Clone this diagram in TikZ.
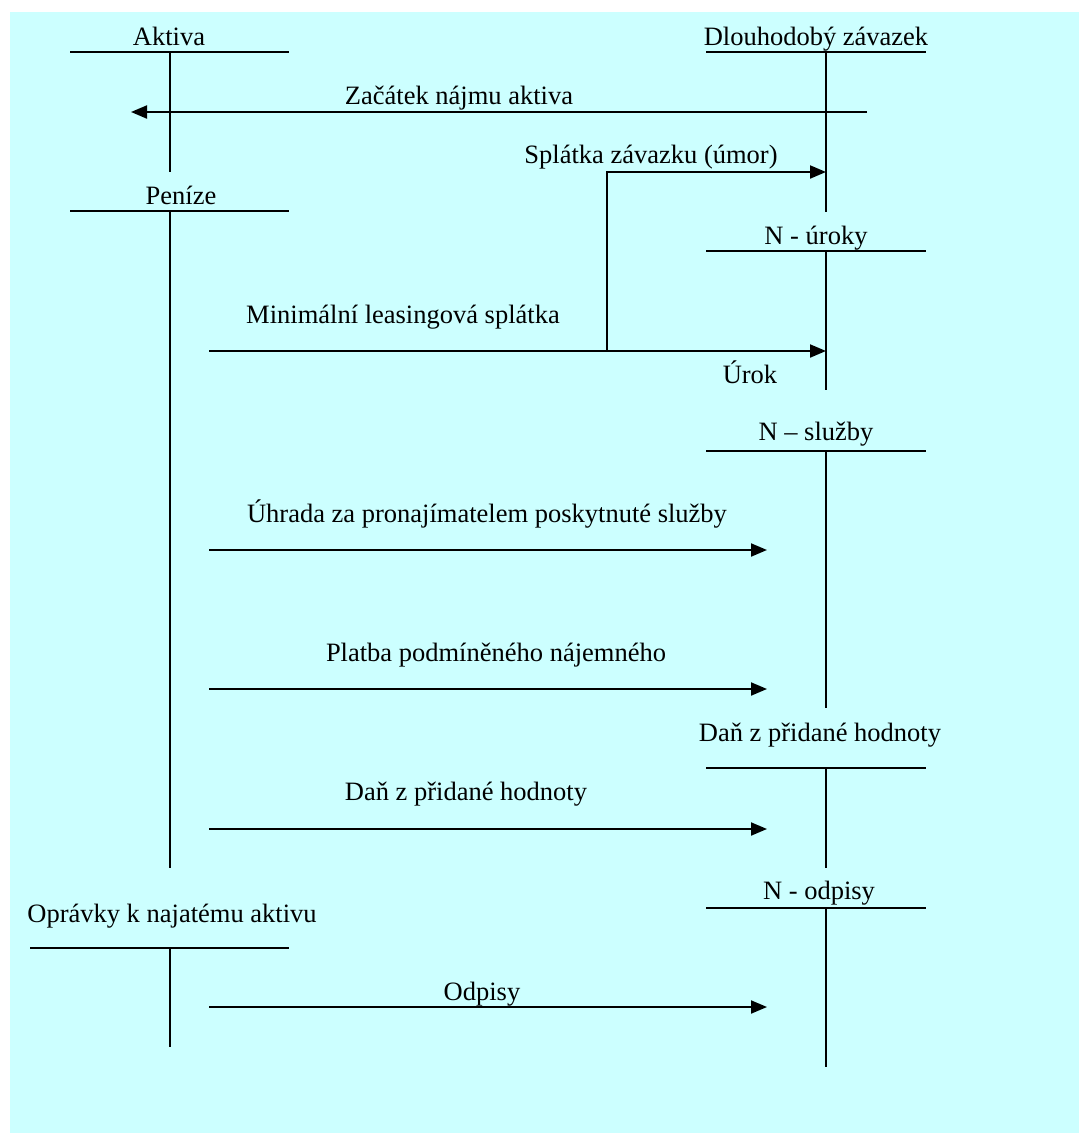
\documentclass[tikz,border=0pt]{standalone}
\usepackage{fontspec}
\setmainfont{Liberation Serif}
\usetikzlibrary{arrows.meta}
\definecolor{bgcyan}{RGB}{204,255,255}
\begin{document}
\begin{tikzpicture}[x=1pt,y=-1pt,
  lbl/.style={anchor=base,inner sep=0pt,font=\fontsize{26.5}{30}\selectfont},
  tline/.style={line width=2pt},
  flow/.style={line width=2pt,-{Triangle[length=16pt,width=13pt]}}]
\useasboundingbox (0,0) rectangle (1079,1133);
\fill[white] (0,0) rectangle (1079,1133);
\fill[bgcyan] (10,12) rectangle (1079,1133);

% ---- T-account: Aktiva
\node[lbl] (tAkt) at (169,45) {Aktiva};
\coordinate (akL) at (70,52); \coordinate (akR) at (289,52);
\coordinate (akT) at (170,52); \coordinate (akB) at (170,172);
\draw[tline] (akL) -- (akR); \draw[tline] (akT) -- (akB);

% ---- T-account: Peníze
\node[lbl] (tPen) at (181,204) {Peníze};
\coordinate (peL) at (70,211); \coordinate (peR) at (289,211);
\coordinate (peT) at (170,211); \coordinate (peB) at (170,868);
\draw[tline] (peL) -- (peR); \draw[tline] (peT) -- (peB);

% ---- T-account: Oprávky
\node[lbl] (tOpr) at (172,922) {Oprávky k najatému aktivu};
\coordinate (opL) at (30,948); \coordinate (opR) at (289,948);
\coordinate (opT) at (170,948); \coordinate (opB) at (170,1047);
\draw[tline] (opL) -- (opR); \draw[tline] (opT) -- (opB);

% ---- T-account: Dlouhodobý závazek
\node[lbl] (tDlo) at (816,45) {Dlouhodobý závazek};
\coordinate (dzL) at (706,52); \coordinate (dzR) at (926,52);
\coordinate (dzT) at (826,52); \coordinate (dzB) at (826,212);
\draw[tline] (dzL) -- (dzR); \draw[tline] (dzT) -- (dzB);

% ---- T-account: N - úroky
\node[lbl] (tUro) at (816,244) {N - úroky};
\coordinate (nuL) at (706,251); \coordinate (nuR) at (926,251);
\coordinate (nuT) at (826,251); \coordinate (nuB) at (826,390);
\draw[tline] (nuL) -- (nuR); \draw[tline] (nuT) -- (nuB);

% ---- T-account: N – služby
\node[lbl] (tSlu) at (816,440) {N – služby};
\coordinate (nsL) at (706,451); \coordinate (nsR) at (926,451);
\coordinate (nsT) at (826,451); \coordinate (nsB) at (826,708);
\draw[tline] (nsL) -- (nsR); \draw[tline] (nsT) -- (nsB);

% ---- T-account: Daň z přidané hodnoty
\node[lbl] (tDph) at (820,741) {Daň z přidané hodnoty};
\coordinate (dpL) at (706,768); \coordinate (dpR) at (926,768);
\coordinate (dpT) at (826,768); \coordinate (dpB) at (826,868);
\draw[tline] (dpL) -- (dpR); \draw[tline] (dpT) -- (dpB);

% ---- T-account: N - odpisy
\node[lbl] (tOdp) at (819,899) {N - odpisy};
\coordinate (noL) at (706,908); \coordinate (noR) at (926,908);
\coordinate (noT) at (826,908); \coordinate (noB) at (826,1067);
\draw[tline] (noL) -- (noR); \draw[tline] (noT) -- (noB);

% ---- flows
\coordinate (zaS) at (867,112); \coordinate (zaE) at (131,112);
\draw[flow] (zaS) -- (zaE);
\node[lbl] (lZac) at (459,104) {Začátek nájmu aktiva};

\coordinate (miS) at (209,351); \coordinate (miE) at (826,351);
\coordinate (spB) at (607,351); \coordinate (spT) at (607,172);
\coordinate (spE) at (826,172);
\draw[flow] (miS) -- (miE);
\draw[flow] (spB) -- (spT) -- (spE);
\node[lbl] (lMin) at (403,323) {Minimální leasingová splátka};
\node[lbl] (lSpl) at (651,163) {Splátka závazku (úmor)};
\node[lbl] (lUrok) at (750,383) {Úrok};

\coordinate (uhS) at (209,550); \coordinate (uhE) at (767,550);
\draw[flow] (uhS) -- (uhE);
\node[lbl] (lUhr) at (487,522) {Úhrada za pronajímatelem poskytnuté služby};

\coordinate (plS) at (209,689); \coordinate (plE) at (767,689);
\draw[flow] (plS) -- (plE);
\node[lbl] (lPla) at (496,661) {Platba podmíněného nájemného};

\coordinate (daS) at (209,829); \coordinate (daE) at (767,829);
\draw[flow] (daS) -- (daE);
\node[lbl] (lDan) at (466,800) {Daň z přidané hodnoty};

\coordinate (odS) at (209,1007); \coordinate (odE) at (767,1007);
\draw[flow] (odS) -- (odE);
\node[lbl] (lOdp) at (482,1000) {Odpisy};
\end{tikzpicture}
\end{document}
